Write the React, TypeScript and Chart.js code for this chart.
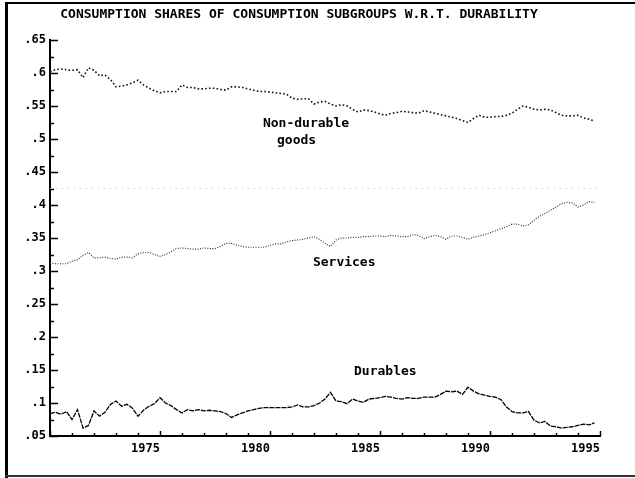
import React, { useEffect, useRef } from "react";
import { Chart, registerables } from "chart.js";

Chart.register(...registerables);

// Quarterly observations, 1970Q1 – 1994Q4
const startYear = 1970;
const periodsPerYear = 4;

const nonDurable = [
  0.602, 0.605, 0.606, 0.605, 0.604, 0.605, 0.593, 0.608, 0.604, 0.596,
  0.597, 0.590, 0.579, 0.580, 0.582, 0.585, 0.589, 0.582, 0.577, 0.573,
  0.570, 0.572, 0.572, 0.572, 0.582, 0.578, 0.578, 0.576, 0.576, 0.577,
  0.577, 0.575, 0.574, 0.579, 0.579, 0.578, 0.576, 0.574, 0.572, 0.572,
  0.571, 0.570, 0.569, 0.568, 0.562, 0.560, 0.561, 0.561, 0.553, 0.556,
  0.557, 0.553, 0.550, 0.552, 0.550, 0.545, 0.541, 0.544, 0.543, 0.541,
  0.538, 0.536, 0.539, 0.540, 0.542, 0.541, 0.540, 0.539, 0.543, 0.541,
  0.539, 0.537, 0.535, 0.533, 0.531, 0.528, 0.525, 0.531, 0.536, 0.533,
  0.533, 0.534, 0.534, 0.536, 0.539, 0.545, 0.550, 0.548, 0.545, 0.544,
  0.545, 0.544, 0.540, 0.536, 0.535, 0.535, 0.536, 0.532, 0.530, 0.527,
];

const services = [
  0.312, 0.311, 0.311, 0.311, 0.315, 0.317, 0.324, 0.328, 0.320, 0.320,
  0.321, 0.319, 0.318, 0.321, 0.321, 0.320, 0.326, 0.328, 0.328, 0.325,
  0.322, 0.325, 0.329, 0.334, 0.335, 0.334, 0.333, 0.333, 0.335, 0.334,
  0.334, 0.337, 0.342, 0.342, 0.339, 0.337, 0.336, 0.336, 0.336, 0.336,
  0.339, 0.341, 0.341, 0.344, 0.346, 0.347, 0.348, 0.350, 0.352, 0.348,
  0.342, 0.337, 0.347, 0.350, 0.350, 0.351, 0.351, 0.352, 0.352, 0.353,
  0.353, 0.352, 0.354, 0.353, 0.352, 0.352, 0.355, 0.354, 0.349, 0.352,
  0.354, 0.352, 0.348, 0.353, 0.353, 0.351, 0.348, 0.351, 0.353, 0.355,
  0.358, 0.361, 0.364, 0.367, 0.371, 0.371, 0.368, 0.370, 0.377, 0.383,
  0.387, 0.392, 0.397, 0.402, 0.404, 0.403, 0.397, 0.400, 0.405, 0.404,
];

const durables = [
  0.084, 0.086, 0.083, 0.087, 0.075, 0.090, 0.062, 0.066, 0.088, 0.080,
  0.086, 0.098, 0.103, 0.095, 0.098, 0.092, 0.080, 0.089, 0.095, 0.099,
  0.108, 0.100, 0.096, 0.090, 0.085, 0.090, 0.088, 0.090, 0.088, 0.089,
  0.088, 0.087, 0.084, 0.078, 0.082, 0.085, 0.088, 0.090, 0.092, 0.093,
  0.093, 0.093, 0.093, 0.093, 0.094, 0.097, 0.094, 0.094, 0.096, 0.100,
  0.106, 0.116, 0.103, 0.102, 0.099, 0.106, 0.103, 0.101, 0.106, 0.107,
  0.108, 0.110, 0.109, 0.107, 0.106, 0.108, 0.107, 0.107, 0.109, 0.109,
  0.109, 0.113, 0.118, 0.117, 0.118, 0.113, 0.124, 0.118, 0.114, 0.112,
  0.110, 0.109, 0.105, 0.094, 0.087, 0.085, 0.085, 0.087, 0.074, 0.070,
  0.072, 0.065, 0.064, 0.062, 0.063, 0.064, 0.066, 0.068, 0.067, 0.070,
];

// faint dotted reference line visible across the scan
const referenceLevel = 0.425;

const yMin = 0.05;
const yMax = 0.65;
const yStep = 0.05;
const xMin = 1970;
const xMax = 1995;
const xLabelYears = [1975, 1980, 1985, 1990, 1995];

const titleText = "CONSUMPTION SHARES OF CONSUMPTION SUBGROUPS W.R.T. DURABILITY";

const annotationTexts = ["Non-durable", "goods", "Services", "Durables"];
const annotationX = [1979.68, 1980.32, 1981.95, 1983.82];
const annotationY = [0.5227, 0.497, 0.312, 0.147];

const MONO = "'DejaVu Sans Mono', 'Liberation Mono', monospace";

const toPoints = (arr: number[]) =>
  arr.map((v, i) => ({ x: startYear + i / periodsPerYear, y: v }));

const fmtY = (v: number) =>
  (+v).toFixed(2).replace(/0+$/, "").replace(/^0/, "");

const decorPlugin = {
  id: "decor",
  beforeDraw(chart: any) {
    const { ctx, width, height } = chart;
    ctx.save();
    ctx.fillStyle = "#fff";
    ctx.fillRect(0, 0, width, height);
    // scanned page frame
    ctx.fillStyle = "#000";
    ctx.fillRect(5, 2, 3, height - 2);
    ctx.fillRect(5, 2, width - 5, 2);
    ctx.fillStyle = "#333";
    ctx.fillRect(5, height - 3, width - 5, 2);
    // title
    ctx.fillStyle = "#000";
    ctx.font = `bold 13px ${MONO}`;
    ctx.textAlign = "center";
    ctx.textBaseline = "middle";
    ctx.fillText(titleText, 299, 15);
    ctx.restore();
  },
  afterDraw(chart: any) {
    const { ctx } = chart;
    const xs = chart.scales.x;
    const ys = chart.scales.y;
    ctx.save();
    ctx.strokeStyle = "#000";
    ctx.lineWidth = 1.5;
    // y ticks pointing inward, with minor ticks between
    const yt = ys.ticks;
    for (let i = 0; i < yt.length; i++) {
      const py = Math.round(ys.getPixelForValue(yt[i].value)) + 0.5;
      ctx.beginPath();
      ctx.moveTo(ys.right, py);
      ctx.lineTo(ys.right + 8, py);
      ctx.stroke();
      if (i < yt.length - 1) {
        const py2 =
          Math.round(
            (ys.getPixelForValue(yt[i].value) + ys.getPixelForValue(yt[i + 1].value)) / 2
          ) + 0.5;
        ctx.beginPath();
        ctx.moveTo(ys.right, py2);
        ctx.lineTo(ys.right + 4, py2);
        ctx.stroke();
      }
    }
    // x ticks pointing inward
    for (const t of xs.ticks) {
      const px = Math.round(xs.getPixelForValue(t.value)) + 0.5;
      const len = Math.round(t.value) % 5 === 0 ? 5 : 3;
      ctx.beginPath();
      ctx.moveTo(px, xs.top);
      ctx.lineTo(px, xs.top - len);
      ctx.stroke();
    }
    // series annotations
    ctx.fillStyle = "#000";
    ctx.font = `bold 13px ${MONO}`;
    ctx.textAlign = "left";
    ctx.textBaseline = "middle";
    for (let i = 0; i < annotationTexts.length; i++) {
      ctx.fillText(
        annotationTexts[i],
        xs.getPixelForValue(annotationX[i]),
        ys.getPixelForValue(annotationY[i])
      );
    }
    ctx.restore();
  },
};

export default function App() {
  const ref = useRef<HTMLCanvasElement | null>(null);

  useEffect(() => {
    if (!ref.current) return;
    const chart = new Chart(ref.current, {
      type: "line",
      data: {
        datasets: [
          {
            label: "Reference",
            data: [
              { x: xMin, y: referenceLevel },
              { x: xMax, y: referenceLevel },
            ],
            borderColor: "#c4c4c4",
            borderWidth: 1,
            borderDash: [1, 5],
            pointRadius: 0,
          },
          {
            label: "Non-durable goods",
            data: toPoints(nonDurable),
            borderColor: "#111",
            borderWidth: 1.6,
            borderDash: [1.6, 2.2],
            pointRadius: 0,
          },
          {
            label: "Services",
            data: toPoints(services),
            borderColor: "#333",
            borderWidth: 1.2,
            borderDash: [1, 1.5],
            pointRadius: 0,
          },
          {
            label: "Durables",
            data: toPoints(durables),
            borderColor: "#000",
            borderWidth: 1.3,
            borderDash: [5, 1],
            pointRadius: 0,
          },
        ],
      },
      options: {
        animation: false,
        responsive: false,
        layout: { padding: { top: 40, right: 35, left: 0, bottom: 0 } },
        plugins: {
          legend: { display: false },
          tooltip: { enabled: false },
          title: { display: false },
        },
        elements: { line: { tension: 0 }, point: { radius: 0 } },
        scales: {
          x: {
            type: "linear",
            min: xMin,
            max: xMax,
            grid: { display: false, drawTicks: false },
            border: { display: true, color: "#000", width: 2 },
            ticks: {
              stepSize: 1,
              autoSkip: false,
              maxRotation: 0,
              align: "end",
              padding: 6,
              color: "#000",
              font: { family: MONO, weight: "bold", size: 12 },
              callback: (v: any) =>
                xLabelYears.includes(Math.round(+v)) ? String(Math.round(+v)) : "",
            },
            afterFit: (s: any) => {
              s.height = 42;
            },
          },
          y: {
            min: yMin,
            max: yMax,
            grid: { display: false, drawTicks: false },
            border: { display: true, color: "#000", width: 2 },
            ticks: {
              stepSize: yStep,
              padding: 4,
              color: "#000",
              font: { family: MONO, weight: "bold", size: 12 },
              callback: (v: any) => fmtY(+v),
            },
            afterFit: (s: any) => {
              s.width = 50;
            },
          },
        },
      },
      plugins: [decorPlugin],
    } as any);
    return () => chart.destroy();
  }, []);

  return (
    <div style={{ position: "absolute", left: 0, top: 0, width: 635, height: 478 }}>
      <canvas ref={ref} width={635} height={478} />
    </div>
  );
}
